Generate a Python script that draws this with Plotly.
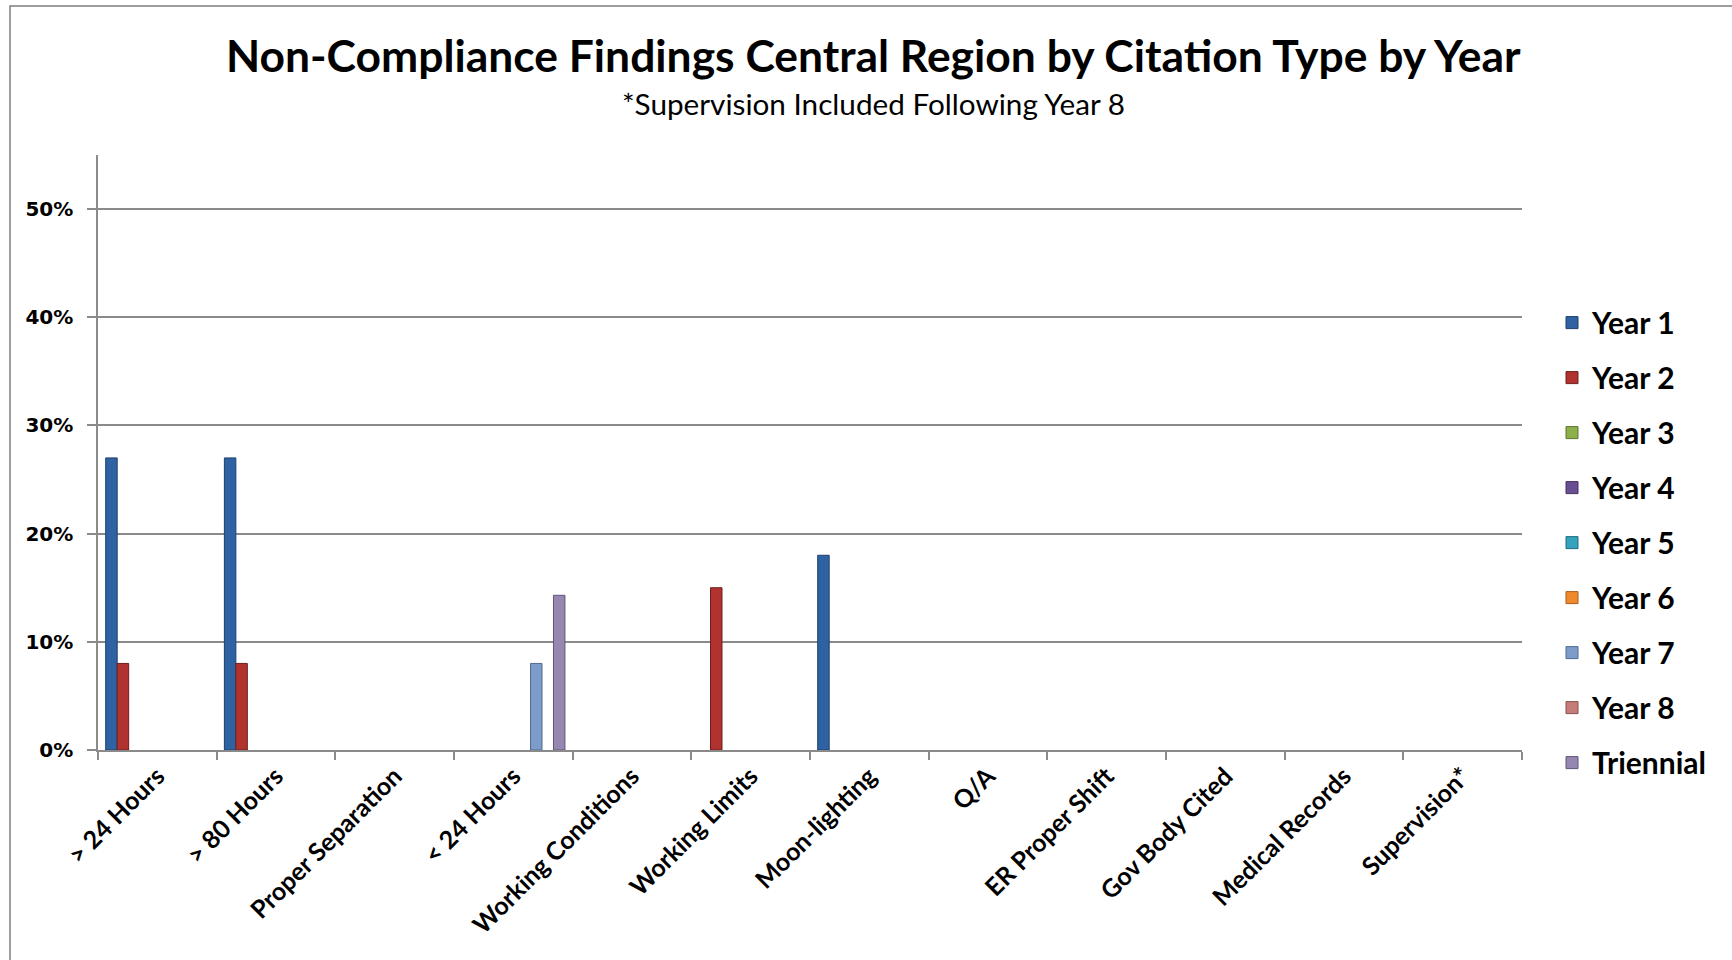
import plotly.graph_objects as go

categories = ["> 24 Hours", "> 80 Hours", "Proper Separation", "< 24 Hours",
              "Working Conditions", "Working Limits", "Moon-lighting", "Q/A",
              "ER Proper Shift", "Gov Body Cited", "Medical Records", "Supervision*"]

series_names = ["Year 1", "Year 2", "Year 3", "Year 4", "Year 5", "Year 6",
                "Year 7", "Year 8", "Triennial"]

year1 = [0.27, 0.27, 0, 0, 0, 0, 0.18, 0, 0, 0, 0, 0]
year2 = [0.08, 0.08, 0, 0, 0, 0.15, 0, 0, 0, 0, 0, 0]
year3 = [0, 0, 0, 0, 0, 0, 0, 0, 0, 0, 0, 0]
year4 = [0, 0, 0, 0, 0, 0, 0, 0, 0, 0, 0, 0]
year5 = [0, 0, 0, 0, 0, 0, 0, 0, 0, 0, 0, 0]
year6 = [0, 0, 0, 0, 0, 0, 0, 0, 0, 0, 0, 0]
year7 = [0, 0, 0, 0.08, 0, 0, 0, 0, 0, 0, 0, 0]
year8 = [0, 0, 0, 0, 0, 0, 0, 0, 0, 0, 0, 0]
triennial = [0, 0, 0, 0.143, 0, 0, 0, 0, 0, 0, 0, 0]

series_values = [year1, year2, year3, year4, year5, year6, year7, year8, triennial]

fill_colors = ["#2F62A3", "#B0332F", "#8DB04A", "#6A4E92", "#35A2BE",
               "#EE8A2C", "#7E9CC9", "#C57D7B", "#9686B2"]
edge_colors = ["#1E3F6B", "#6E1F1D", "#5C7530", "#45325F", "#236B7E",
               "#A85B1A", "#4F6A91", "#8A4F4D", "#615476"]

W, H = 1732, 960
L, R, T, B = 98, 210, 155, 210
PW, PH = W - L - R, H - T - B


def px_x(x):
    return (x - L) / PW


def px_y(y):
    return (H - B - y) / PH


fig = go.Figure()
for name, vals, fc, ec in zip(series_names, series_values, fill_colors, edge_colors):
    fig.add_trace(go.Bar(
        name=name, x=categories, y=[v if v else None for v in vals], legendgroup=name,
        marker=dict(color=fc, line=dict(color=ec, width=1)),
    ))

grid = "#8A8A8A"

fig.update_layout(
    width=W, height=H,
    paper_bgcolor="white", plot_bgcolor="white",
    margin=dict(l=L, r=R, t=T, b=B),
    barmode="group", bargap=0.13, bargroupgap=0,
    font=dict(family="Lato, sans-serif", color="black"),
    showlegend=True,
    legend=dict(
        x=px_x(1552), xanchor="left", y=0.762, yanchor="top",
        font=dict(family="Lato, sans-serif", size=30, weight="bold", color="black"),
        tracegroupgap=13, bgcolor="rgba(0,0,0,0)",
        itemclick=False, itemdoubleclick=False,
    ),
    xaxis=dict(
        type="category", showgrid=False, showline=True, linecolor=grid, linewidth=1.5,
        ticks="outside", tickson="boundaries", ticklen=8, tickcolor=grid, tickwidth=1.5,
        tickangle=-45,
        tickfont=dict(family="Lato, sans-serif", size=25, weight="bold", color="black"),
    ),
    yaxis=dict(
        range=[0, 0.55], tickvals=[0, 0.1, 0.2, 0.3, 0.4, 0.5],
        ticktext=["0%", "10%", "20%", "30%", "40%", "50%"],
        showgrid=True, gridcolor=grid, gridwidth=1.5,
        showline=True, linecolor=grid, linewidth=1.5,
        ticks="outside", ticklen=9, tickcolor=grid, tickwidth=1.5,
        ticklabelstandoff=10,
        tickfont=dict(family="DejaVu Sans, sans-serif", size=20, weight="bold", color="black"),
        zeroline=False,
    ),
    annotations=[
        dict(text="Non-Compliance Findings Central Region by Citation Type by Year",
             xref="paper", yref="paper", x=px_x(873), y=px_y(55),
             xanchor="center", yanchor="middle", showarrow=False,
             font=dict(family="Lato, sans-serif", size=44.4, weight="bold", color="black")),
        dict(text="*Supervision Included Following Year 8",
             xref="paper", yref="paper", x=px_x(873), y=px_y(103),
             xanchor="center", yanchor="middle", showarrow=False,
             font=dict(family="Lato, sans-serif", size=29.7, color="black")),
    ],
    shapes=[
        dict(type="rect", xref="paper", yref="paper",
             x0=px_x(10), x1=px_x(1760),
             y0=px_y(990), y1=px_y(6),
             line=dict(color="#7F7F7F", width=1.5), fillcolor="rgba(0,0,0,0)", layer="below"),
    ],
)

fig.write_html("out.html", config={"displayModeBar": False},
               post_script="document.body.style.margin='0';document.body.style.overflow='hidden';")
